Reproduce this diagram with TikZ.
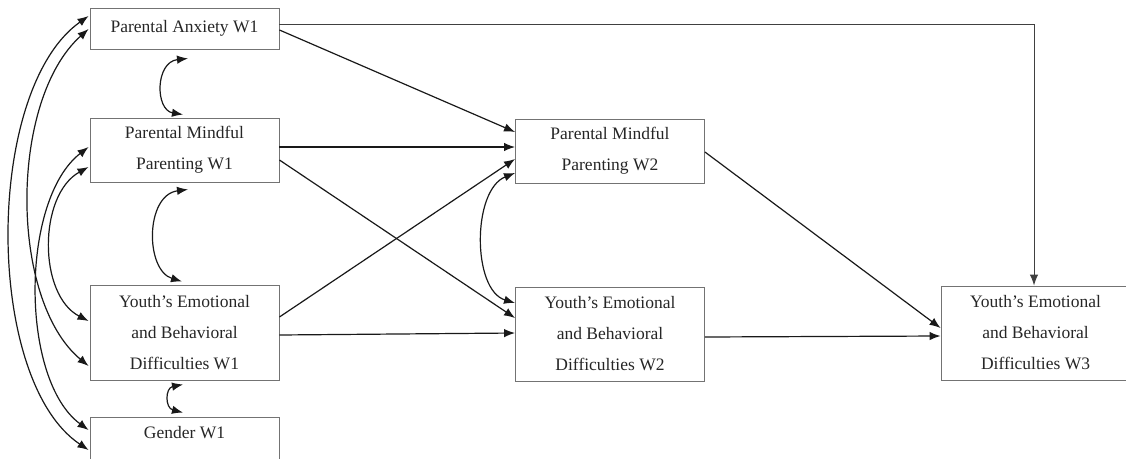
\documentclass[tikz,border=0pt]{standalone}
\usepackage{fontspec}
\setmainfont{Liberation Serif}
\usetikzlibrary{arrows.meta}
\begin{document}
\begin{tikzpicture}[x=1pt,y=1pt,
  box/.style={draw=black!55, line width=0.9pt, inner sep=0pt, align=center,
    font=\fontsize{17.5}{31}\selectfont, text=black!85, minimum width=189pt},
  arr/.style={line width=1.2pt, draw=black!90, -{Latex[length=11pt,width=8.5pt]}},
  cov/.style={line width=1.2pt, draw=black!90, {Latex[length=11pt,width=8.5pt]}-{Latex[length=11pt,width=8.5pt]}}]
\useasboundingbox (0,0) rectangle (1126,-458);
\clip (0,0) rectangle (1126,-458);
% boxes
\node[box, minimum height=41pt] (anx) at (184.5,-28.5) {Parental Anxiety W1};
\node[box, minimum height=64pt] (pmp1) at (184.5,-150) {Parental Mindful\\Parenting W1};
\node[box, minimum height=95pt] (yw1) at (184.5,-332.5) {Youth’s Emotional\\and Behavioral\\Difficulties W1};
\node[box, minimum height=50pt, text height=12pt, text depth=20pt] (gen) at (184.5,-442) {Gender W1};
\node[box, minimum height=64pt] (pmp2) at (610,-151) {Parental Mindful\\Parenting W2};
\node[box, minimum height=94pt] (yw2) at (610,-334) {Youth’s Emotional\\and Behavioral\\Difficulties W2};
\node[box, minimum height=94pt] (w3) at (1035.5,-333) {Youth’s Emotional\\and Behavioral\\Difficulties W3};
% paths
\draw[arr, draw=black!75, line width=1pt] ([yshift=4.5pt]anx.east) -| ([xshift=-1.5pt]w3.north);
\draw[arr] ([yshift=-1.5pt]anx.east) -- ([yshift=19pt]pmp2.west);
\draw[arr] ([yshift=3pt]pmp1.east) -- ([yshift=4pt]pmp2.west);
\draw[arr] ([yshift=-10pt]pmp1.east) -- ([yshift=16pt]yw2.west);
\draw[arr] ([yshift=15.5pt]yw1.east) -- ([yshift=-8pt]pmp2.west);
\draw[arr] ([yshift=-2.5pt]yw1.east) -- ([yshift=1pt]yw2.west);
\draw[arr] ([yshift=-1pt]pmp2.east) -- ([yshift=5pt]w3.west);
\draw[arr] ([yshift=-3pt]yw2.east) -- ([yshift=-3pt]w3.west);
% covariances
\draw[cov] ([yshift=-22pt]pmp2.west) .. controls (472,-190) and (472,-290) .. ([yshift=31pt]yw2.west);
\draw[cov] ([xshift=3.5pt,yshift=-9pt]anx.south) .. controls (155,-62) and (155,-110) .. ([xshift=-1.5pt,yshift=3pt]pmp1.north);
\draw[cov] ([xshift=3.5pt,yshift=-7pt]pmp1.south) .. controls (145,-195) and (145,-270) .. ([xshift=-2.5pt,yshift=3pt]yw1.north);
\draw[cov] ([xshift=-1.5pt,yshift=-4pt]yw1.south) .. controls (165,-388) and (165,-408) .. ([xshift=-1.5pt,yshift=4pt]gen.north);
\draw[cov] ([xshift=-1pt,yshift=12.5pt]anx.west) .. controls (-16,-90) and (-16,-380) .. ([xshift=-1pt,yshift=-8pt]gen.west);
\draw[cov] ([xshift=-1pt,yshift=-0.5pt]anx.west) .. controls (9,-100) and (9,-300) .. ([xshift=-1pt,yshift=-33.5pt]yw1.west);
\draw[cov] ([xshift=-1pt,yshift=3pt]pmp1.west) .. controls (20,-200) and (20,-380) .. ([xshift=-1pt,yshift=12pt]gen.west);
\draw[cov] ([xshift=-1pt,yshift=-17pt]pmp1.west) .. controls (38,-195) and (38,-295) .. ([xshift=-1pt,yshift=11.5pt]yw1.west);
\end{tikzpicture}
\end{document}
